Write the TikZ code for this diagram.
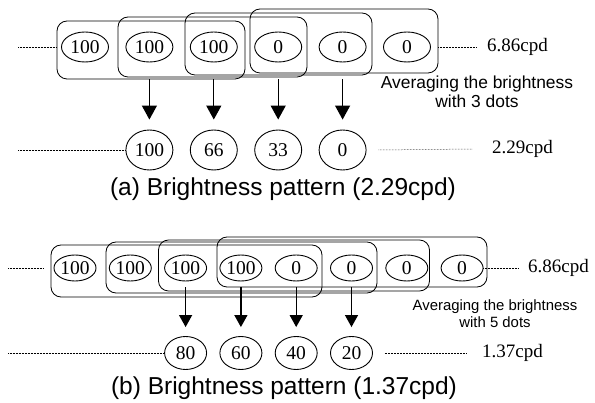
\documentclass[tikz,border=0pt]{standalone}
\usepackage{fontspec}
\setmainfont{Liberation Serif}
\newfontfamily\arialfont{Liberation Sans}
\usetikzlibrary{shapes.geometric,arrows.meta}

\tikzset{
  pix/.style={ellipse,draw,line width=0.9pt,inner sep=0pt,
    font=\fontsize{19.5}{21}\selectfont},
  pixa/.style={pix,minimum width=47pt,minimum height=30pt},
  pixb/.style={pix,minimum width=42pt,minimum height=26pt},
  avga/.style={pix,minimum width=47pt,minimum height=40pt},
  avgb/.style={pix,minimum width=42pt,minimum height=33pt},
  group/.style={draw,rectangle,rounded corners=10pt,line width=0.8pt,inner sep=0pt},
  dotline/.style={densely dotted,line width=0.5pt},
  cpd/.style={anchor=west,inner sep=0pt,font=\fontsize{19}{21}\selectfont},
  note/.style={align=center,inner sep=0pt,font=\arialfont},
  caption/.style={inner sep=0pt,font=\arialfont\fontsize{24.5}{28}\selectfont},
}

\begin{document}
\begin{tikzpicture}[x=1pt,y=-1pt]
  \useasboundingbox (0,0) rectangle (595,403);

  % (a) averaging over 3 dots
  \draw
    (85,47) node[pixa] (a0){100}
    (149.4,47) node[pixa] (a1){100}
    (213.8,47) node[pixa] (a2){100}
    (278.2,47) node[pixa] (a3){0}
    (342.6,47) node[pixa] (a4){0}
    (407,47) node[pixa] (a5){0};
  \draw
    (151,50) node[group,minimum width=188pt,minimum height=58pt] (ga0){}
    (212.5,47) node[group,minimum width=189pt,minimum height=60pt] (ga1){}
    (278.5,44) node[group,minimum width=187pt,minimum height=62pt] (ga2){}
    (344,41) node[group,minimum width=188pt,minimum height=64pt] (ga3){};
  \draw
    (149.4,150) node[avga] (ra0){100}
    (213.8,150) node[avga] (ra1){66}
    (278.2,150) node[avga] (ra2){33}
    (342.6,150) node[avga] (ra3){0};
  \begin{scope}[line width=1.3pt,-{Triangle[length=14pt,width=15pt]},shorten >=10pt]
    \draw (ra0.north |- ga0.south) to (ra0.north);
    \draw (ra1.north |- ga0.south) to (ra1.north);
    \draw (ra2.north |- ga0.south) to (ra2.north);
    \draw (ra3.north |- ga0.south) to (ra3.north);
  \end{scope}
  \coordinate (ila) at (18,47);
  \coordinate (ola) at (18,150);
  \node[cpd] (fa) at (487,47) {6.86cpd};
  \node[cpd] (sa) at (492,149) {2.29cpd};
  \draw[dotline] (ila) -- (ila -| ga0.west);
  \draw[dotline] (ga3.east |- fa.west) -- ([xshift=-10pt]fa.west);
  \draw[dotline] (ola) -- (ra0.west);
  \draw[dotline] ([xshift=12pt]ra3.east) -- ([xshift=-19pt]sa.west);
  \node[note,font=\arialfont\fontsize{17.4}{19.5}\selectfont] (na) at (477,92)
    {Averaging the brightness\\with 3 dots};
  \node[caption] (capa) at (283,189) {(a) Brightness pattern (2.29cpd)};

  % (b) averaging over 5 dots
  \draw
    (75,268) node[pixb] (b0){100}
    (130.3,268) node[pixb] (b1){100}
    (185.6,268) node[pixb] (b2){100}
    (240.9,268) node[pixb] (b3){100}
    (296.2,268) node[pixb] (b4){0}
    (351.5,268) node[pixb] (b5){0}
    (406.8,268) node[pixb] (b6){0}
    (462.1,268) node[pixb] (b7){0};
  \draw
    (186.5,271) node[group,minimum width=271pt,minimum height=52pt] (gb0){}
    (241.5,267.5) node[group,minimum width=271pt,minimum height=51pt] (gb1){}
    (294,265.5) node[group,minimum width=271pt,minimum height=51pt] (gb2){}
    (352,262) node[group,minimum width=270pt,minimum height=50pt] (gb3){};
  \draw
    (185.6,353) node[avgb] (rb0){80}
    (240.9,353) node[avgb] (rb1){60}
    (296.2,353) node[avgb] (rb2){40}
    (351.5,353) node[avgb] (rb3){20};
  \begin{scope}[line width=1.3pt,-{Triangle[length=12pt,width=13pt]},shorten >=9pt]
    \draw (rb0.north |- gb3.south) to (rb0.north);
    \draw (rb1.north |- gb3.south) to (rb1.north);
    \draw (rb2.north |- gb3.south) to (rb2.north);
    \draw (rb3.north |- gb3.south) to (rb3.north);
  \end{scope}
  \coordinate (ilb) at (8,268);
  \coordinate (olb) at (8,353);
  \node[cpd] (fb) at (528,268) {6.86cpd};
  \node[cpd] (sb) at (482,353) {1.37cpd};
  \draw[dotline] (ilb) -- ([xshift=-8pt]ilb -| gb0.west);
  \draw[dotline] ([xshift=-45pt]fb.west) -- ([xshift=-10pt]fb.west);
  \draw[dotline] (olb) -- (rb0.west);
  \draw[dotline] ([xshift=12pt]rb3.east) -- ([xshift=-15pt]sb.west);
  \node[note,font=\arialfont\fontsize{14.9}{17}\selectfont] (nb) at (495,314)
    {Averaging the brightness\\with 5 dots};
  \node[caption] (capb) at (284,388) {(b) Brightness pattern (1.37cpd)};
\end{tikzpicture}
\end{document}
